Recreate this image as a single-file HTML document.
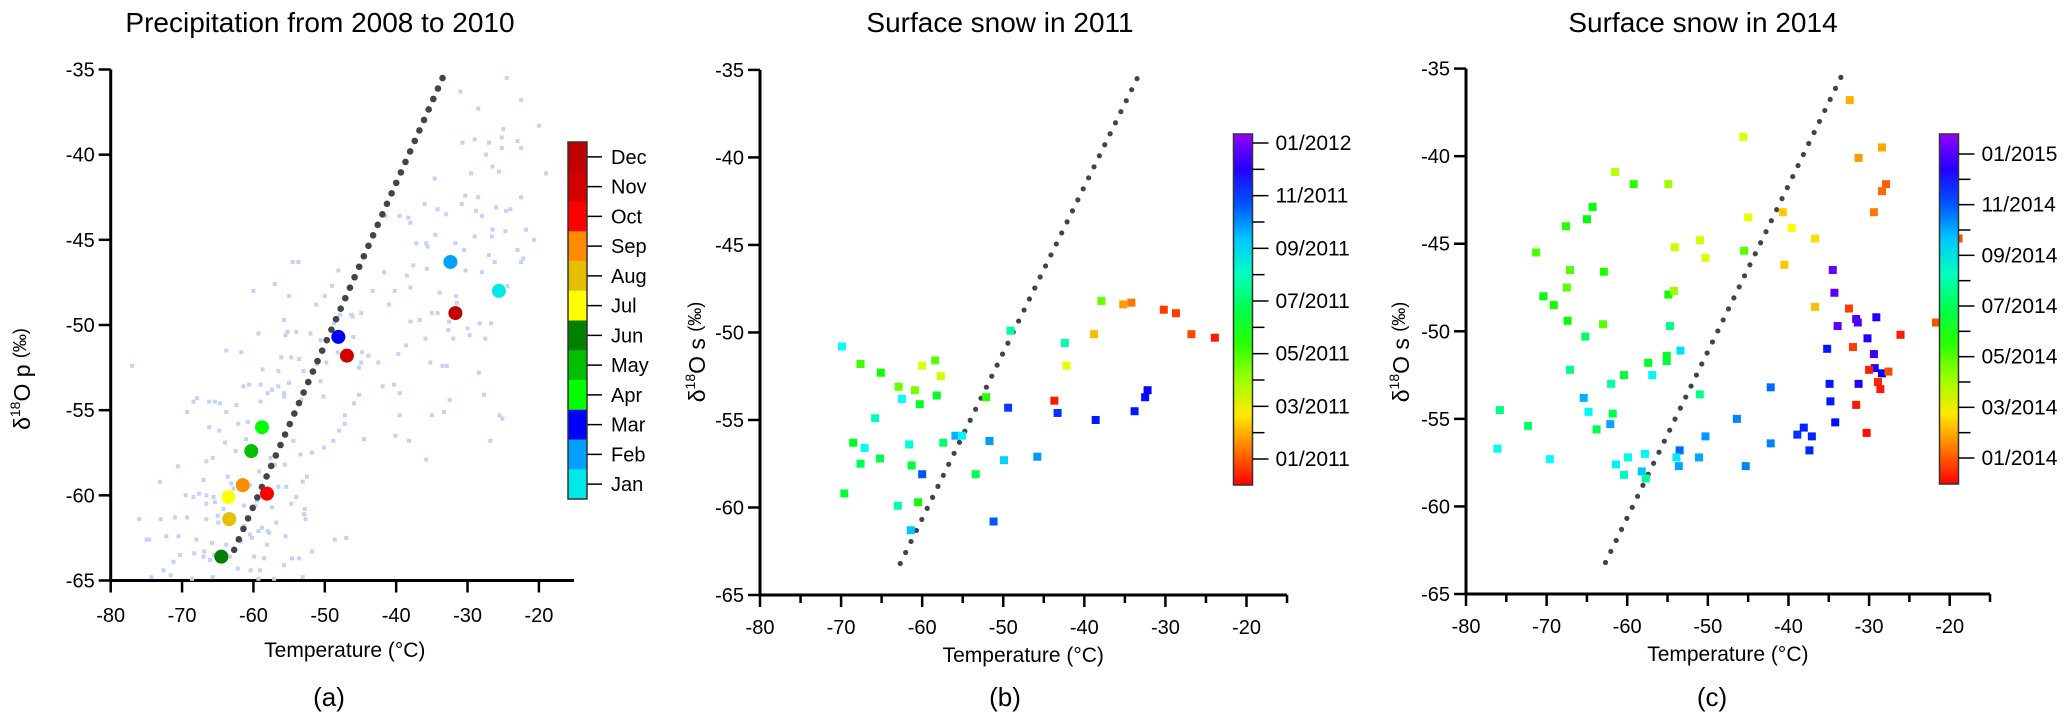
<!DOCTYPE html>
<html><head><meta charset="utf-8">
<style>
html,body{margin:0;padding:0;background:#fff;}
svg{display:block;font-family:"Liberation Sans",Arial,sans-serif;}
</style></head>
<body>
<svg id="chart" width="2067" height="713" viewBox="0 0 2067 713" xmlns="http://www.w3.org/2000/svg"></svg>
<script>
// ---------- DATA ----------
const xTicks = [-80,-70,-60,-50,-40,-30,-20];
const yTicks = [-35,-40,-45,-50,-55,-60,-65];
const regStart = [-62.7,-63.2];
const regEnd = [-33.5,-35.5];
const monthNames = ["Jan","Feb","Mar","Apr","May","Jun","Jul","Aug","Sep","Oct","Nov","Dec"];
const monthColors = ["#00e8e8","#00a0ff","#0000ff","#00ff00","#00c000","#008000","#ffff00","#e6c000","#ff8c00","#ff0000","#d00000","#c00000"];
const monthT = [-25.6,-32.4,-48.1,-58.8,-60.3,-64.5,-63.5,-63.4,-61.5,-58.1,-46.9,-31.7];
const monthD = [-48.0,-46.3,-50.7,-56.0,-57.4,-63.6,-60.1,-61.4,-59.4,-59.9,-51.8,-49.3];
const bgT = [-24.5,-31,-22.5,-28.5,-20,-25,-25.2,-23,-22.5,-29,-30.7,-27,-25.2,-27.4,-26.5,-19,-25.6,-29.5,-34.6,-30.3,-28.5,-22.5,-36,-30.8,-28.8,-26,-24,-33,-34.2,-39.5,-41.5,-38.3,-24.6,-28,-38,-26.5,-24.7,-26.6,-29,-21.8,-34.5,-30.5,-31.7,-37.2,-35.8,-35.6,-23,-20.7,-27,-22.2,-22.5,-26.2,-37.6,-41.7,-38.5,-30.3,-35.7,-28,-24.4,-33.9,-31.6,-31.5,-38,-40.2,-41,-43.3,-44.9,-34.2,-35,-36.7,-38,-32.6,-26.7,-28.3,-30,-32.7,-29.7,-32,-35.9,-27.5,-38.6,-39.7,-43.9,-42.5,-35.2,-33.5,-32.9,-28.4,-40.3,-41.9,-39.5,-45.2,-32.5,-27.7,-39.5,-33.3,-35,-25.5,-25.1,-40.1,-26.8,-38.2,-35.8,
-54.5,-53.7,-57,-60,-48.1,-49,-50,-55,-51.2,-47.9,-46.3,-48.7,-55.7,-59.3,-55.2,-54,-52,-55.5,-48.8,-50.6,-46,-44.8,-48.2,-53.6,-54.7,-56.1,-61.7,-51.1,-49.8,-53,-56.5,-58.7,-77,-63.8,-50.6,-55,-56.5,-57.4,-59,-61.4,-60.6,-55.7,-55.7,-53.3,-50.2,-45.9,-47.2,-47.2,-44.5,-48.8,-48,-50.1,-51.8,-54.4,-58,-59,-62.4,-64.7,-65.4,-66.2,-67.9,-68.4,-69.3,-63.8,-60.8,-62.1,-66.2,-64.8,-61,-57.6,-57,-53.4,-55.6,-52.5,-53.1,-56.5,-55.4,-54,-64,-65.7,-62.5,-66.6,-70.6,-73.1,-67,-63.6,-63.1,-59.2,-60.5,-62.8,-67.6,-66.6,-65.6,-65.4,-68.4,-69.5,-66.6,-61.3,-59.7,-57.4,-54.7,-52.8,-59.5,-64.2,-65,-63.8,-62.8,-60.7,-58.8,-56.8,-52.7,-52.9,-69.3,-71,-76,-73,-66.6,-64.9,-61.3,-59.3,-58,-57.8,-55.5,-60.2,-60.5,-70.5,-72.2,-75,-74.6,-68,-65.8,-63.8,-61.7,-58.1,-51.8,-47,-48.6,-62.7,-66.9,-68.3,-70.3,-67,-65.5,-63.3,-59.9,-58.5,-54.6,-53.6,-66.1,-71.2,-72.6,-62.2,-60.4,-59.1,-55.7,-74.3,-71.6,-68.6,-65.7,-59.3,-57.1,-53.1,-44.9,-46.1,-45.2];
const bgD = [-35.5,-36.3,-36.8,-37.3,-38.3,-38.5,-39,-39.2,-39.6,-39.1,-39.3,-39.3,-39.6,-40.0,-40.7,-41.1,-41.0,-41.1,-41.4,-42.4,-42.5,-42.5,-42.9,-42.9,-43.3,-43.1,-43.2,-43.5,-43.2,-43.6,-43.6,-43.7,-43.3,-43.6,-44.0,-44.4,-44.5,-44.8,-44.8,-44.4,-44.7,-45.6,-45.2,-45.2,-45.2,-45.4,-45.6,-45.0,-45.9,-46.1,-46.3,-46.3,-46.5,-46.9,-47.1,-46.8,-46.7,-46.9,-47.7,-48.1,-48.3,-48.7,-47.8,-48.0,-48.8,-48.0,-49.3,-49.3,-49.3,-49.7,-49.8,-49.8,-49.9,-49.9,-50.2,-50.3,-50.6,-50.8,-50.8,-50.8,-51.2,-51.7,-51.8,-52.2,-52.2,-52.4,-52.4,-52.8,-53.5,-53.6,-54.0,-54.1,-54.4,-54.1,-55.3,-55.1,-55.3,-55.3,-55.5,-56.5,-56.8,-56.8,-57.9,
-46.3,-46.3,-47.6,-48.0,-46.8,-47.7,-48.3,-48.3,-48.8,-49.4,-49.4,-49.9,-49.7,-50.5,-50.4,-50.4,-50.5,-50.6,-50.7,-50.9,-50.7,-51.6,-51.6,-52.0,-51.9,-51.9,-51.6,-52.3,-52.2,-52.7,-52.7,-52.6,-52.4,-51.5,-53.3,-53.4,-53.6,-53.8,-53.5,-53.6,-53.5,-54.0,-54.2,-54.4,-54.2,-54.6,-55.3,-55.8,-56.7,-56.8,-56.2,-57.2,-57.5,-56.8,-54.0,-54.5,-54.7,-54.6,-54.5,-54.5,-54.3,-54.5,-55.1,-55.1,-55.7,-55.8,-56.0,-56.2,-56.7,-57.8,-58.2,-57.6,-58.2,-58.9,-59.2,-59.5,-59.5,-60.1,-56.9,-57.8,-57.4,-58.0,-58.3,-59.2,-59.1,-58.9,-59.3,-58.6,-59.4,-59.6,-59.9,-60.0,-60.1,-60.4,-60.1,-60.0,-60.5,-60.6,-60.6,-60.7,-60.5,-60.8,-60.3,-60.8,-61.2,-61.3,-61.2,-61.4,-61.9,-61.6,-61.4,-61.1,-61.3,-61.3,-61.4,-61.4,-61.4,-61.6,-61.8,-62.1,-62.1,-62.2,-62.4,-62.5,-62.3,-62.4,-62.4,-62.6,-62.6,-62.6,-62.8,-62.9,-62.7,-62.9,-63.3,-62.5,-62.6,-63.2,-63.3,-63.4,-63.5,-63.6,-63.5,-63.6,-63.6,-63.7,-63.7,-63.7,-63.8,-63.9,-64.4,-64.3,-64.4,-64.4,-64.1,-64.8,-64.7,-64.9,-64.8,-64.9,-64.9,-64.8,-52.2,-49.5,-52.5];
// panel b (2011 snow): T, delta, colour fraction (0=Dec 2010 .. 1=Jan 2012+)
const bT = [-69.9,-67.6,-65.1,-62.9,-60.9,-60.0,-58.4,-57.7,-62.5,-60.3,-58.2,-52.1,-49.1,-65.8,-68.5,-67.1,-61.6,-57.4,-55.9,-55.1,-51.7,-49.9,-45.8,-65.2,-67.6,-61.3,-60.0,-53.4,-69.6,-63.0,-60.5,-61.4,-51.2,-49.4,-43.3,-38.6,-33.8,-32.5,-32.2,-43.7,-42.4,-42.2,-38.8,-37.9,-35.2,-34.2,-30.2,-28.7,-26.8,-23.9];
const bD = [-50.8,-51.8,-52.3,-53.1,-53.3,-51.9,-51.6,-52.5,-53.8,-54.1,-53.6,-53.7,-49.9,-54.9,-56.3,-56.6,-56.4,-56.3,-55.9,-55.9,-56.2,-57.3,-57.1,-57.2,-57.5,-57.6,-58.1,-58.1,-59.2,-59.9,-59.7,-61.3,-60.8,-54.3,-54.6,-55.0,-54.5,-53.7,-53.3,-53.9,-50.6,-51.9,-50.1,-48.2,-48.4,-48.3,-48.7,-48.9,-50.1,-50.3];
const bC = [.65,.38,.42,.35,.33,.25,.36,.26,.65,.47,.47,.40,.58,.60,.46,.65,.62,.53,.72,.66,.74,.69,.74,.50,.51,.49,.80,.50,.48,.58,.42,.70,.80,.82,.83,.85,.85,.86,.88,.02,.58,.24,.16,.35,.13,.10,.05,.05,.06,.02];
// panel c (2014 snow)
const cT = [-32.4,-45.6,-28.4,-31.3,-27.9,-28.4,-29.4,-61.5,-59.2,-54.9,-64.3,-65.0,-67.6,-71.3,-67.1,-62.9,-67.5,-70.4,-69.1,-67.4,-63.0,-65.2,-54.9,-54.2,-54.7,-54.1,-51.0,-50.3,-45.0,-45.5,-40.7,-39.6,-36.7,-40.5,-36.7,-34.5,-34.3,-33.9,-31.6,-31.4,-29.1,-32.5,-32.0,-35.2,-30.2,-29.4,-29.3,-30.0,-28.4,-27.6,-28.9,-28.6,-31.3,-34.9,-34.8,-34.2,-31.6,-30.3,-26.1,-21.7,-18.9,-53.4,-56.9,-57.4,-55.1,-55.1,-60.4,-62.0,-67.1,-65.4,-64.8,-61.8,-63.8,-62.1,-75.8,-72.3,-76.1,-69.6,-51.0,-57.8,-59.9,-61.4,-58.2,-60.4,-57.7,-53.5,-53.9,-53.6,-51.1,-50.3,-46.4,-45.3,-42.2,-42.2,-38.9,-38.1,-37.1,-37.4];
const cD = [-36.8,-38.9,-39.5,-40.1,-41.6,-42.0,-43.2,-40.9,-41.6,-41.6,-42.9,-43.6,-44.0,-45.5,-46.5,-46.6,-47.5,-48.0,-48.5,-49.4,-49.6,-50.3,-47.9,-47.7,-49.7,-45.2,-44.8,-45.8,-43.5,-45.4,-43.2,-44.1,-44.7,-46.2,-48.6,-46.5,-47.8,-49.7,-49.3,-49.5,-49.2,-48.7,-50.9,-51.0,-50.4,-51.3,-52.1,-52.2,-52.4,-52.3,-52.9,-53.3,-53.0,-53.0,-54.0,-55.2,-54.2,-55.8,-50.2,-49.5,-44.7,-51.1,-52.5,-51.8,-51.4,-51.7,-52.5,-53.0,-52.2,-53.8,-54.6,-54.7,-55.6,-55.3,-54.5,-55.4,-56.7,-57.3,-53.6,-57.0,-57.2,-57.6,-58.0,-58.2,-58.4,-56.8,-57.2,-57.7,-57.2,-56.0,-55.0,-57.7,-53.2,-56.4,-55.9,-55.5,-56.0,-56.8];
const cC = [.15,.25,.14,.13,.08,.09,.10,.28,.40,.30,.45,.44,.40,.37,.36,.41,.36,.45,.42,.43,.36,.52,.42,.30,.55,.26,.26,.25,.24,.36,.17,.22,.19,.17,.16,.96,.95,.95,.93,.94,.90,.05,.05,.85,.90,.92,.90,.03,.87,.06,.03,.02,.90,.85,.85,.86,.02,.01,.02,.07,.07,.68,.66,.47,.47,.48,.48,.58,.55,.72,.66,.50,.50,.73,.55,.53,.64,.65,.55,.66,.63,.67,.70,.60,.57,.78,.67,.73,.73,.74,.76,.76,.78,.76,.83,.84,.84,.84];
const bBarLabels = ["01/2012","11/2011","09/2011","07/2011","05/2011","03/2011","01/2011"];
const cBarLabels = ["01/2015","11/2014","09/2014","07/2014","05/2014","03/2014","01/2014"];

// ---------- DRAW ----------
const svg = document.getElementById('chart');
const NS = 'http://www.w3.org/2000/svg';
function mk(tag, attrs, parent){
  const e = document.createElementNS(NS, tag);
  for (const k in attrs) e.setAttribute(k, attrs[k]);
  (parent||svg).appendChild(e);
  return e;
}
function hueColor(t){ return 'hsl(' + (t*275).toFixed(0) + ',100%,50%)'; }

const panels = [
  {id:'a', x80:110.7, x20:538.9, xEnd:574, y35:69.5, y65:580.5, minor:false, title:'Precipitation from 2008 to 2010', tx:320, xlabY:650, tickY:622, ylabX:22, ylabY:379, sub:'p', capX:329},
  {id:'b', x80:760, x20:1246.5, xEnd:1287, y35:69.9, y65:595, minor:true, title:'Surface snow in 2011', tx:1000, xlabY:655, tickY:634, ylabX:697, ylabY:352, sub:'s', capX:1005},
  {id:'c', x80:1466, x20:1949.7, xEnd:1990, y35:68.6, y65:594, minor:true, title:'Surface snow in 2014', tx:1703, xlabY:654, tickY:633, ylabX:1401, ylabY:352, sub:'s', capX:1712}
];
panels.forEach(p=>{
  p.sx = v => p.x80 + (v+80)*(p.x20-p.x80)/60;
  p.sy = v => p.y35 + (-35-v)*(p.y65-p.y35)/30;
});

function drawAxes(p){
  const g = mk('g',{});
  
  
  const t = mk('text',{x:p.tx,y:32,'font-size':28,'text-anchor':'middle',fill:'#000'},g);
  t.textContent = p.title;
  
  
  mk('line',{x1:p.x80,y1:p.y35,x2:p.x80,y2:p.y65+1.5,stroke:'#000','stroke-width':3},g);
  mk('line',{x1:p.x80-1.5,y1:p.y65,x2:p.xEnd,y2:p.y65,stroke:'#000','stroke-width':3},g);
  yTicks.forEach(v=>{
    const y = p.sy(v);
    mk('line',{x1:p.x80-12,y1:y,x2:p.x80,y2:y,stroke:'#000','stroke-width':2.5},g);
    const l = mk('text',{x:p.x80-16,y:y+7,'font-size':20,'text-anchor':'end'},g);
    l.textContent = v;
    
    
  });
  xTicks.forEach(v=>{
    const x = p.sx(v);
    mk('line',{x1:x,y1:p.y65,x2:x,y2:p.y65+12,stroke:'#000','stroke-width':2.5},g);
    const l = mk('text',{x:x,y:p.tickY,'font-size':20,'text-anchor':'middle'},g);
    l.textContent = v;
    
    
    if (p.minor && v < -20){
      const xm = p.sx(v+5);
      mk('line',{x1:xm,y1:p.y65,x2:xm,y2:p.y65+8,stroke:'#000','stroke-width':2.5},g);
    }
  });
  if (p.minor){ const xm=p.sx(-15); mk('line',{x1:xm,y1:p.y65,x2:xm,y2:p.y65+8,stroke:'#000','stroke-width':2.5},g); }
  const xt = mk('text',{x:(p.sx(-50)+20),y:p.xlabY+7,'font-size':21,'text-anchor':'middle'},g);
  xt.textContent = 'Temperature (°C)';
  
  
  const yt = mk('text',{x:0,y:0,'font-size':23,'text-anchor':'middle',transform:'translate('+(p.ylabX+8)+','+p.ylabY+') rotate(-90)'},g);
  yt.innerHTML = 'δ<tspan font-size="14" dy="-10">18</tspan><tspan dy="10">O ' + p.sub + ' </tspan><tspan font-size="18" dy="-4">(‰)</tspan>';
  
  
  const cap = mk('text',{x:p.capX,y:706,'font-size':26,'text-anchor':'middle'},g);
  cap.textContent = '(' + p.id + ')';
  
  
}

function drawReg(p, r, n){
  const g = mk('g',{});
  
  
  for (let i=0;i<n;i++){
    const f = i/(n-1);
    const T = regStart[0] + f*(regEnd[0]-regStart[0]);
    const D = regStart[1] + f*(regEnd[1]-regStart[1]);
    mk('circle',{cx:p.sx(T),cy:p.sy(D),r:r,fill:'#444'},g);
  }
}

panels.forEach(drawAxes);

// Panel a
const pa = panels[0];
const bg = mk('g',{});


bgT.forEach((T,i)=>{
  mk('rect',{x:pa.sx(T)-2,y:pa.sy(bgD[i])-2,width:4,height:4,fill:'#c4d2f7'},bg);
});
drawReg(pa, 3.3, 46);
const mg = mk('g',{});


monthT.forEach((T,i)=>{
  const c = mk('ellipse',{cx:pa.sx(T),cy:pa.sy(monthD[i]),rx:7,ry:7,fill:monthColors[i]},mg);
  
  
});
// month colorbar
const cbA = mk('g',{});


const segH = (499-142)/12;
for (let i=0;i<12;i++){
  const k = 11-i;
  const y = 142 + i*segH;
  mk('rect',{x:568,y:y,width:19,height:segH+0.5,fill:monthColors[k]},cbA);
  mk('line',{x1:587,y1:y+segH/2,x2:602,y2:y+segH/2,stroke:'#000','stroke-width':1.5},cbA);
  const l = mk('text',{x:611,y:y+segH/2+7,'font-size':20},cbA);
  l.textContent = monthNames[k];
  
  
}
mk('rect',{x:568,y:142,width:19,height:357,fill:'none',stroke:'#333','stroke-width':1.5},cbA);

// Panels b and c
function drawSnow(p, T, D, C, labels, cbX, cbTop, cbBot, firstLabelY){
  drawReg(p, 2.6, 45);
  const g = mk('g',{});
  
  
  T.forEach((t,i)=>{
    const r = mk('rect',{x:p.sx(t)-4,y:p.sy(D[i])-4,width:8,height:8,fill:hueColor(C[i])},g);
    
    
  });
  const cb = mk('g',{});
  
  
  const gid = 'grad'+p.id;
  const defs = mk('defs',{},cb);
  const lg = mk('linearGradient',{id:gid,x1:0,y1:1,x2:0,y2:0},defs);
  for (let s=0;s<=10;s++) mk('stop',{offset:s/10,'stop-color':hueColor(s/10)},lg);
  mk('rect',{x:cbX,y:cbTop,width:19,height:cbBot-cbTop,fill:'url(#'+gid+')',stroke:'#333','stroke-width':1.5},cb);
  const step = (cbBot - 26 - firstLabelY)/6;
  labels.forEach((lab,i)=>{
    const y = firstLabelY + i*step;
    mk('line',{x1:cbX+19,y1:y,x2:cbX+35,y2:y,stroke:'#000','stroke-width':1.5},cb);
    if (i<6) mk('line',{x1:cbX+19,y1:y+step/2,x2:cbX+31,y2:y+step/2,stroke:'#000','stroke-width':1.5},cb);
    const l = mk('text',{x:cbX+42,y:y+7,'font-size':21},cb);
    l.textContent = lab;
    
    
  });
}
drawSnow(panels[1], bT, bD, bC, bBarLabels, 1233.5, 134, 485, 143);
drawSnow(panels[2], cT, cD, cC, cBarLabels, 1939.5, 134, 484, 154);
</script>
</body></html>
